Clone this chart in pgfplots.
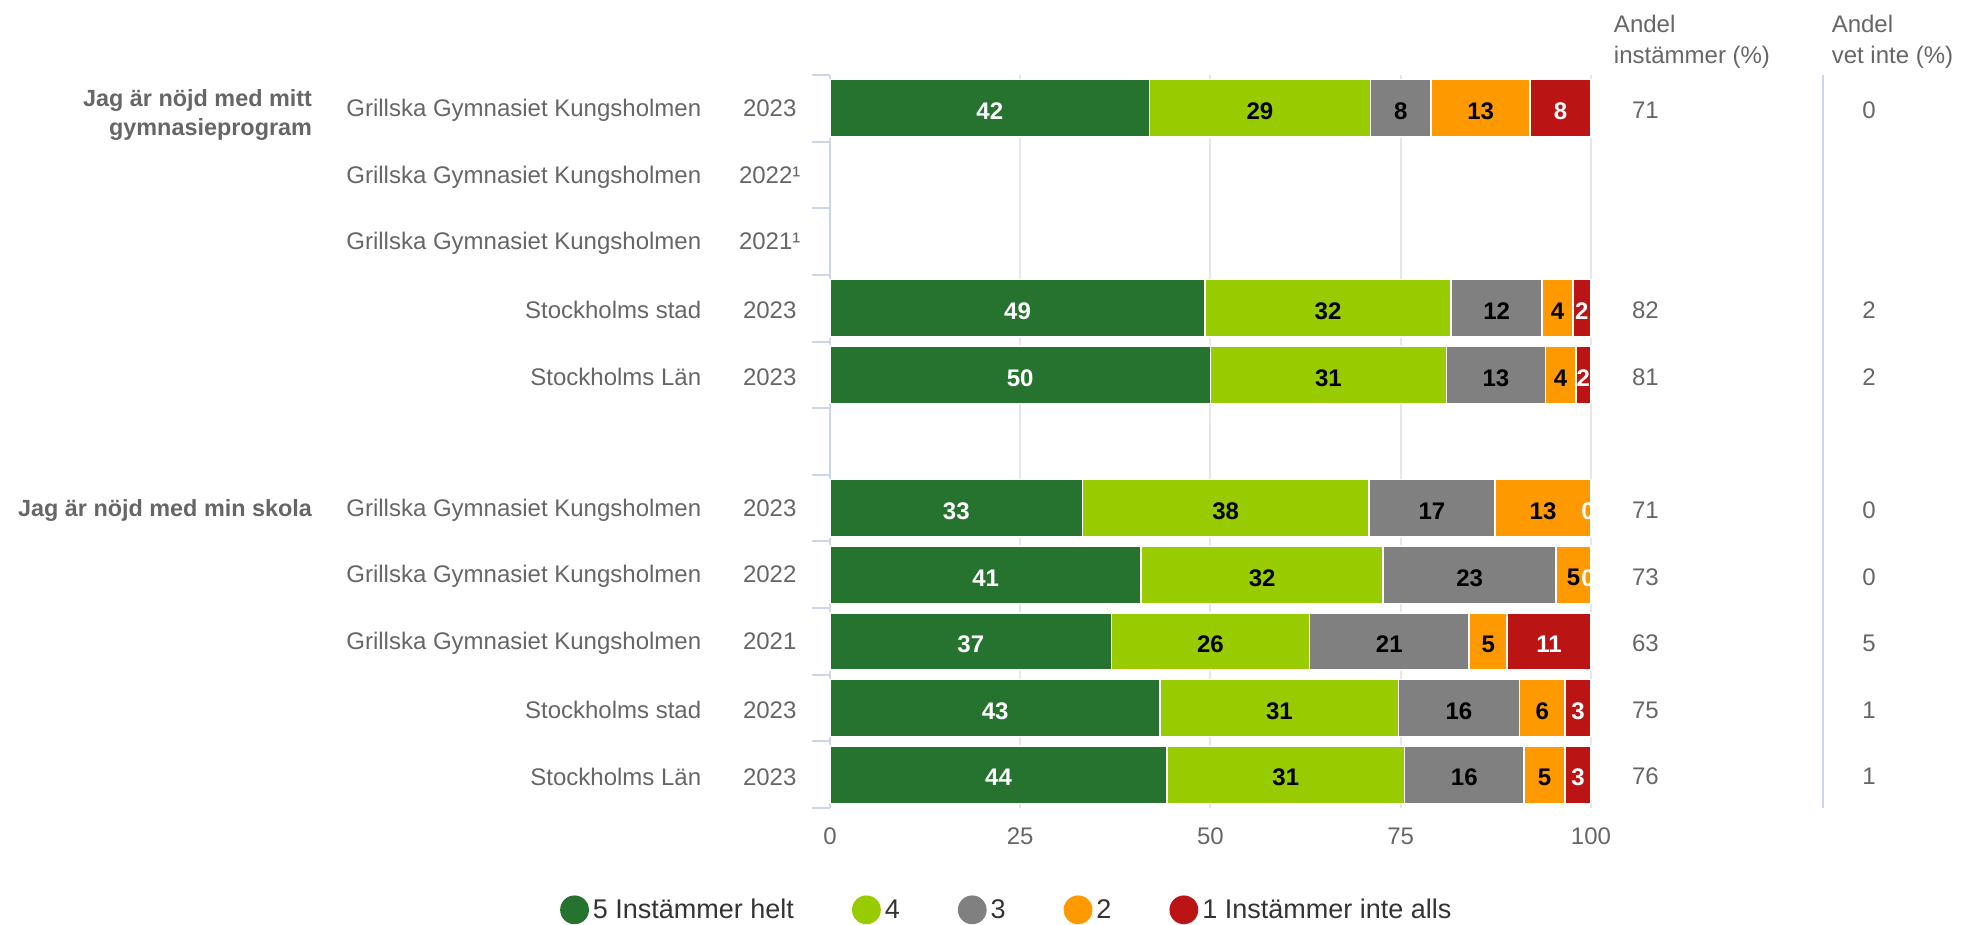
\documentclass[border=0pt]{standalone}
\usepackage{pgfplots}
\pgfplotsset{compat=1.18}
\usepackage{fontspec}
\setmainfont{Liberation Sans}

\definecolor{c5}{HTML}{267330}
\definecolor{c4}{HTML}{99CC00}
\definecolor{c3}{HTML}{808080}
\definecolor{c2}{HTML}{FF9900}
\definecolor{c1}{HTML}{BB1414}
\definecolor{txt}{HTML}{666666}
\definecolor{legtxt}{HTML}{333333}
\definecolor{axblue}{HTML}{CCD6EB}
\definecolor{gridc}{HTML}{E6E6E6}

\newcommand\lbl{\fontsize{12}{14.5}\selectfont}

\pgfplotsset{
  dot legend/.style={legend image code/.code={\fill[##1,draw=none] (6.8pt,0.2pt) circle (7.2pt);}},
  seg/.style={fill=#1, draw=white, line width=0.8pt, dot legend},
  common/.style={at={(0,0)}, anchor=south west, scale only axis,
    width=380.5pt, height=366.5pt, xmin=0, xmax=100, ymin=-0.5, ymax=10.5, clip=false},
  barlbl/.style={draw=none, mark=none, forget plot, point meta=explicit symbolic,
    nodes near coords, every node near coord/.append style={anchor=center, yshift=-1.5pt, font=\lbl\bfseries, text=#1}},
  collbl/.style={draw=none, mark=none, forget plot, point meta=explicit symbolic,
    nodes near coords, every node near coord/.append style={anchor=west, xshift=#1, yshift=-1pt, font=\lbl, text=txt}},
}

\begin{document}
\begin{tikzpicture}
% rows: y=10 is the top row, y=5 is the empty gap
\begin{axis}[common,
  xbar stacked, bar width=0.86,
  axis line style={draw=none},
  tick pos=left,
  xtick={0,25,50,75,100}, xtick style={draw=none},
  xmajorgrids, major x grid style={draw=gridc, line width=1pt},
  xticklabel style={text=txt, font=\lbl, yshift=-6.5pt},
  /pgf/number format/assume math mode=true,
  ytick={0,...,10}, minor ytick={-0.5,0.5,...,10.5},
  major tick length=0pt, minor tick length=9pt, tick align=outside,
  ytick style={draw=axblue, line width=1pt},
  yticklabel style={anchor=east, inner sep=0pt, xshift=-14.9pt, yshift=-1pt, text=txt, font=\lbl},
  yticklabels={
    Stockholms Län\hspace{19.3pt}\makebox[30pt][c]{2023},
    Stockholms stad\hspace{19.3pt}\makebox[30pt][c]{2023},
    Grillska Gymnasiet Kungsholmen\hspace{19.3pt}\makebox[30pt][c]{2021},
    Grillska Gymnasiet Kungsholmen\hspace{19.3pt}\makebox[30pt][c]{2022},
    Grillska Gymnasiet Kungsholmen\hspace{19.3pt}\makebox[30pt][c]{2023},
    {},
    Stockholms Län\hspace{19.3pt}\makebox[30pt][c]{2023},
    Stockholms stad\hspace{19.3pt}\makebox[30pt][c]{2023},
    Grillska Gymnasiet Kungsholmen\hspace{19.3pt}\makebox[30pt][c]{2021¹},
    Grillska Gymnasiet Kungsholmen\hspace{19.3pt}\makebox[30pt][c]{2022¹},
    Grillska Gymnasiet Kungsholmen\hspace{19.3pt}\makebox[30pt][c]{2023}},
  legend columns=-1,
  legend cell align=left,
  legend style={at={(0.2336,-0.1395)}, anchor=center, draw=none, fill=none,
    font=\fontsize{13.5}{16}\selectfont, text=legtxt,
    /tikz/every even column/.append style={column sep=27pt}},
]
\addplot[seg=c5] coordinates {(42,10) (49.3,7) (50,6) (33.2,4) (40.9,3) (37,2) (43.4,1) (44.3,0)};
\addplot[seg=c4] coordinates {(29,10) (32.3,7) (31,6) (37.6,4) (31.8,3) (26,2) (31.3,1) (31.2,0)};
\addplot[seg=c3] coordinates {(8,10) (12.0,7) (13,6) (16.6,4) (22.7,3) (21,2) (15.9,1) (15.7,0)};
\addplot[seg=c2] coordinates {(13,10) (4.0,7) (4,6) (12.6,4) (4.6,3) (5,2) (6.0,1) (5.4,0)};
\addplot[seg=c1] coordinates {(8,10) (2.4,7) (2,6) (0,4) (0,3) (11,2) (3.4,1) (3.4,0)};
\legend{5 Instämmer helt, 4, 3, 2, 1 Instämmer inte alls}
\draw[axblue, line width=1pt] (axis cs:0,-0.5) -- (axis cs:0,10.5);
\end{axis}

\begin{axis}[common, hide axis]
% labels in the segments
\addplot[barlbl=white] coordinates {(21,10)[42] (24.65,7)[49] (25,6)[50] (16.6,4)[33] (20.45,3)[41] (18.5,2)[37] (21.7,1)[43] (22.15,0)[44]};
\addplot[barlbl=black] coordinates {(56.5,10)[29] (65.45,7)[32] (65.5,6)[31] (52,4)[38] (56.8,3)[32] (50,2)[26] (59.05,1)[31] (59.9,0)[31]};
\addplot[barlbl=black] coordinates {(75,10)[8] (87.6,7)[12] (87.5,6)[13] (79.1,4)[17] (84.05,3)[23] (73.5,2)[21] (82.65,1)[16] (83.35,0)[16]};
\addplot[barlbl=black] coordinates {(85.5,10)[13] (95.6,7)[4] (96,6)[4] (93.7,4)[13] (97.7,3)[5] (86.5,2)[5] (93.6,1)[6] (93.9,0)[5]};
\addplot[barlbl=white] coordinates {(96,10)[8] (98.8,7)[2] (99,6)[2] (99.6,4)[0] (99.6,3)[0] (94.5,2)[11] (98.3,1)[3] (98.3,0)[3]};
% Andel instämmer / Andel vet inte
\addplot[collbl=17pt] coordinates {(100,10)[71] (100,7)[82] (100,6)[81] (100,4)[71] (100,3)[73] (100,2)[63] (100,1)[75] (100,0)[76]};
\addplot[collbl=132.2pt] coordinates {(100,10)[0] (100,7)[2] (100,6)[2] (100,4)[0] (100,3)[0] (100,2)[5] (100,1)[1] (100,0)[1]};
\draw[axblue, line width=1pt] (axis description cs:1.3043,0) -- (axis description cs:1.3043,1);
\node[anchor=west, inner sep=0pt, font=\lbl, text=txt] at (axis description cs:1.0297,1.0700) {Andel};
\node[anchor=west, inner sep=0pt, font=\lbl, text=txt] at (axis description cs:1.0297,1.0240) {instämmer (\%)};
\node[anchor=west, inner sep=0pt, font=\lbl, text=txt] at (axis description cs:1.3159,1.0700) {Andel};
\node[anchor=west, inner sep=0pt, font=\lbl, text=txt] at (axis description cs:1.3159,1.0240) {vet inte (\%)};
\node[anchor=east, align=right, inner sep=0pt, xshift=-258.8pt, yshift=-3.5pt, font=\fontsize{11.7}{14.5}\selectfont\bfseries, text=txt] at (axis cs:0,10) {Jag är nöjd med mitt\\gymnasieprogram};
\node[anchor=east, align=right, inner sep=0pt, xshift=-258.8pt, yshift=-1pt, font=\fontsize{11.7}{14.5}\selectfont\bfseries, text=txt] at (axis cs:0,4) {Jag är nöjd med min skola};
\end{axis}
\pgfresetboundingbox
\path (-415pt,-58.05pt) rectangle (572.5pt,404pt);
\end{tikzpicture}
\end{document}
